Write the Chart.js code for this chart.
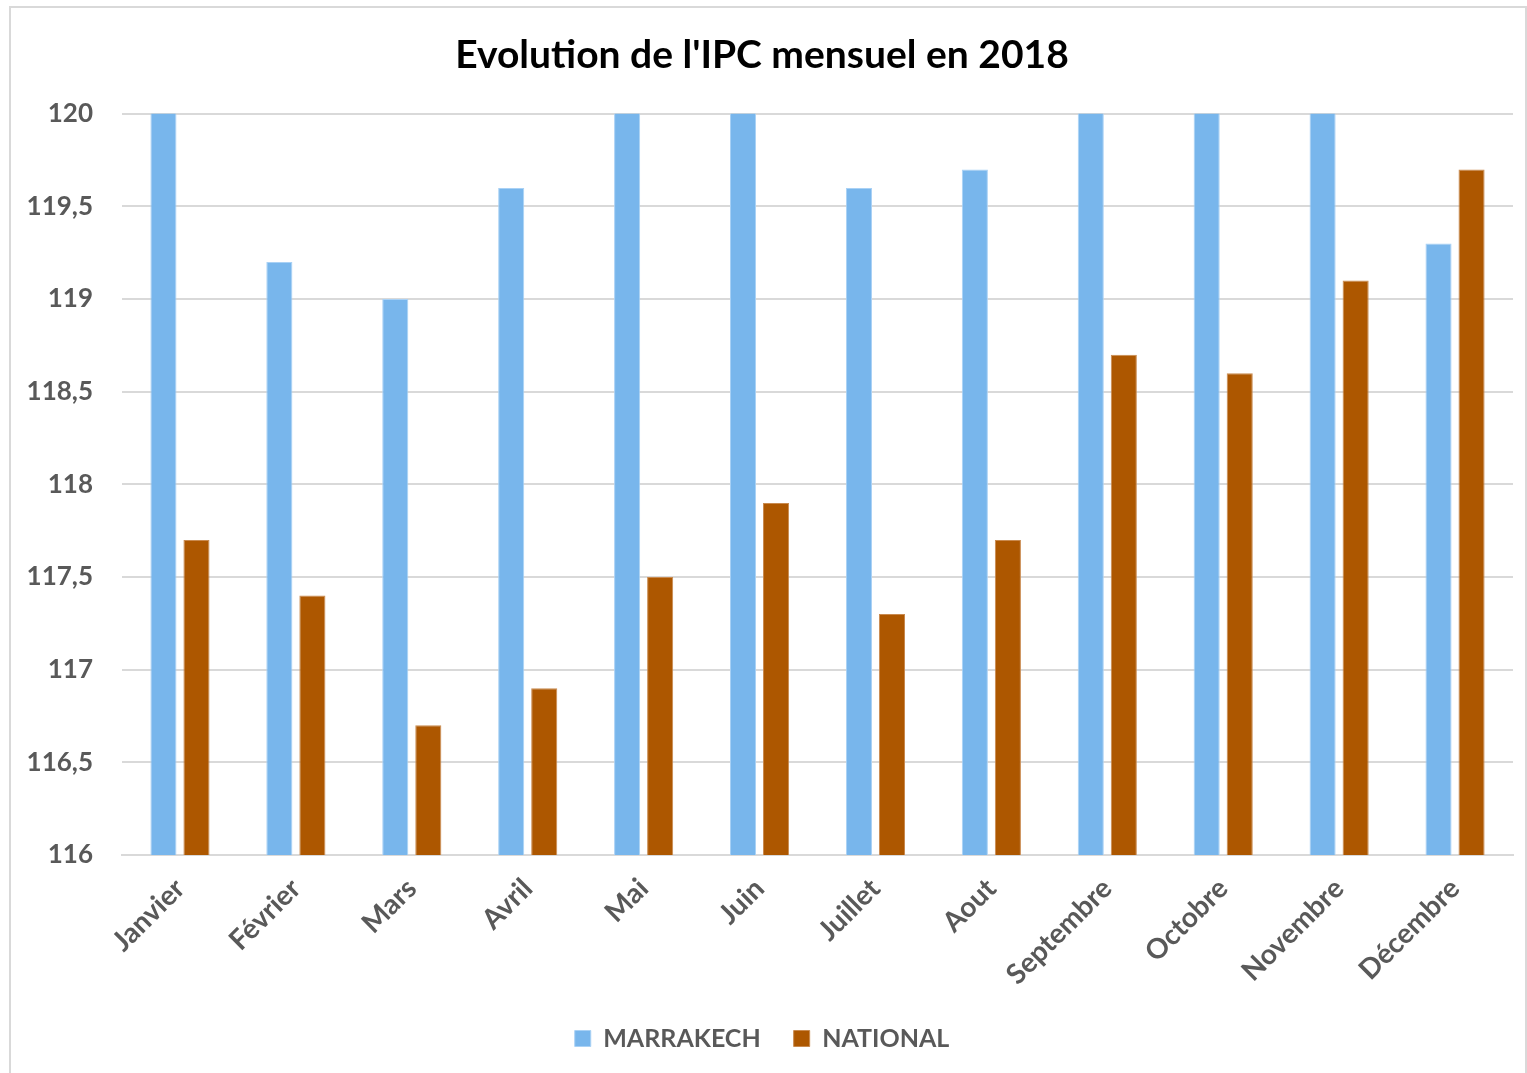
<!DOCTYPE html>
<html>
<head>
<meta charset="utf-8">
<script src="https://cdn.jsdelivr.net/npm/chart.js@4"></script>
<style>
  html, body { margin: 0; padding: 0; background: #fff; overflow: hidden; }
  #cadre {
    position: absolute; left: 9px; top: 6px;
    width: 1514px; height: 1075px;
    border: 2px solid #d9d9d9; background: #fff;
  }
  #graphique { display: block; }
</style>
</head>
<body>
<div id="cadre"><canvas id="graphique" width="1514" height="1067"></canvas></div>
<script>
const mois = ['Janvier', 'Février', 'Mars', 'Avril', 'Mai', 'Juin', 'Juillet', 'Aout', 'Septembre', 'Octobre', 'Novembre', 'Décembre']
// les barres au-dessus de 120 sont coupées dans l'original
const marrakech = [120.3, 119.2, 119.0, 119.6, 120.3, 120.3, 119.6, 119.7, 120.3, 120.3, 120.3, 119.3]
const national = [117.7, 117.4, 116.7, 116.9, 117.5, 117.9, 117.3, 117.7, 118.7, 118.6, 119.1, 119.7]

const gris = '#595959'
const police = 'Lato, "Open Sans", sans-serif'

const ctx = document.getElementById('graphique')

new Chart(ctx, {
  type: 'bar',
  data: {
    labels: mois,
    datasets: [{
      label: 'MARRAKECH',
      data: marrakech,
      backgroundColor: '#78b6ec',
      borderColor: '#a9d1f5',
      borderWidth: 1,
      borderSkipped: 'bottom',
      barPercentage: 0.79,
      categoryPercentage: 0.57
    }, {
      label: 'NATIONAL',
      data: national,
      backgroundColor: '#ad5700',
      borderColor: '#c98a4f',
      borderWidth: 1,
      borderSkipped: 'bottom',
      barPercentage: 0.79,
      categoryPercentage: 0.57
    }]
  },
  options: {
    responsive: false,
    animation: false,
    layout: {
      padding: { left: 0, right: 12, top: 24, bottom: 14 }
    },
    scales: {
      y: {
        min: 116,
        max: 120,
        ticks: {
          stepSize: 0.5,
          color: gris,
          padding: 29,
          font: { family: police, size: 26, weight: 'bold' },
          callback: v => String(v).replace('.', ',')
        },
        grid: { color: '#d9d9d9', lineWidth: 2, drawTicks: false },
        border: { display: false },
        afterFit: axe => { axe.width = 111 }
      },
      x: {
        ticks: {
          color: gris,
          minRotation: 45,
          maxRotation: 45,
          padding: 9,
          font: { family: police, size: 28, weight: 'bold' }
        },
        grid: { display: false },
        border: { color: '#d9d9d9', width: 2 },
        afterFit: axe => { axe.height = 138 }
      }
    },
    plugins: {
      title: {
        display: true,
        text: "Evolution de l'IPC mensuel en 2018",
        color: '#000',
        font: { family: police, size: 39, weight: 'bold' },
        padding: { top: 0, bottom: 35 }
      },
      legend: {
        position: 'bottom',
        labels: {
          color: gris,
          boxWidth: 16,
          boxHeight: 16,
          padding: 33,
          font: { family: police, size: 25, weight: 'bold' }
        }
      },
      tooltip: { enabled: false }
    }
  }
})
</script>
</body>
</html>
